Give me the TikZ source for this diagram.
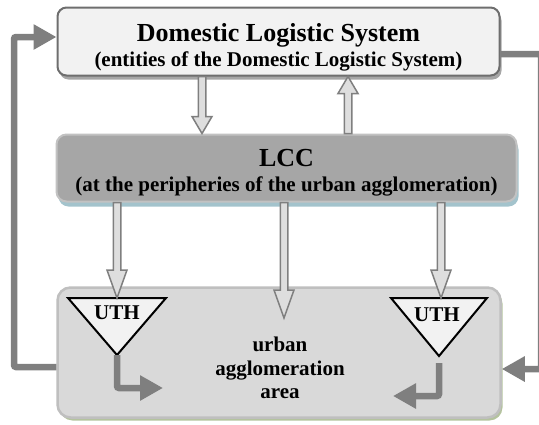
\documentclass[tikz,border=0pt]{standalone}
\usepackage{fontspec}
\setmainfont{Liberation Serif}
\usetikzlibrary{calc,shadows,arrows.meta}

\definecolor{boxline}{HTML}{6E6E6E}
\definecolor{topfill}{HTML}{F2F2F2}
\definecolor{lccfill}{HTML}{A6A6A6}
\definecolor{lccline}{HTML}{C2C2C2}
\definecolor{lccshade}{HTML}{A3C3CC}
\definecolor{areafill}{HTML}{D9D9D9}
\definecolor{arealine}{HTML}{BFBFBF}
\definecolor{areashade}{HTML}{B4C39E}
\definecolor{flowgray}{HTML}{7F7F7F}
\definecolor{fatfill}{HTML}{DEDEDE}
\definecolor{brownshade}{HTML}{C49A78}

\tikzset{
  dlsbox/.style={draw=boxline, line width=2pt, fill=topfill, rounded corners=9pt,
    drop shadow={shadow xshift=2pt, shadow yshift=-4pt, fill=lccfill, opacity=1}},
  lccbox/.style={draw=lccline, line width=2pt, fill=lccfill, rounded corners=10pt,
    drop shadow={shadow xshift=2pt, shadow yshift=-5pt, fill=lccshade, opacity=1}},
  areabox/.style={draw=arealine, line width=2.5pt, fill=areafill, rounded corners=13pt,
    drop shadow={shadow xshift=2pt, shadow yshift=-3pt, fill=areashade, opacity=1}},
  lbl/.style={align=center, inner sep=0pt, font=\bfseries\fontsize{21}{25}\selectfont},
  feed/.style={draw=flowgray, line width=6.5pt, rounded corners=2pt,
    -{Triangle[length=23pt,width=24pt]}},
  fat/.style={draw=flowgray, fill=fatfill, line width=1.5pt, line join=miter},
  uth/.style={draw=black, fill=topfill, line width=2pt, line join=miter}
}

% hollow block arrow from #2 to #3, head length #1
\newcommand{\fatarrow}[3][17pt]{%
  \coordinate (fh) at ($(#3)!#1!(#2)$);
  \draw[fat] ($(#2)!3.75pt!90:(#3)$) -- ($(fh)!3.75pt!90:(#3)$) -- ($(fh)!10pt!90:(#3)$)
    -- (#3) -- ($(fh)!10pt!-90:(#3)$) -- ($(fh)!3.75pt!-90:(#3)$) -- ($(#2)!3.75pt!-90:(#3)$) -- cycle;}

\begin{document}
\begin{tikzpicture}[x=1pt, y=-1pt]
\useasboundingbox (0,0) rectangle (539,424);

% boxes
\node[dlsbox, minimum width=442pt, minimum height=68pt] (dls) at (278.5,41.5) {};
\node[lccbox, minimum width=460pt, minimum height=67pt] (lcc) at (286.5,168) {};
\node[areabox, minimum width=443pt, minimum height=130pt] (area) at (279,352.5) {};

\node[lbl] (dlstxt) at (278.5,47) {{\fontsize{26}{26}\selectfont Domestic Logistic System}\\(entities of the Domestic Logistic System)};
\node[lbl] (lcctxt) at (286.5,173) {{\fontsize{26}{26}\selectfont LCC}\\(at the peripheries of the urban agglomeration)};
\node[lbl, font=\bfseries\fontsize{21}{23.5}\selectfont] (areatxt) at (280,368) {urban\\agglomeration\\area};

% UTH triangles
\coordinate (t1l) at (68,298);  \coordinate (t1r) at (166,298); \coordinate (t1b) at (117,355);
\coordinate (t2l) at (391,298); \coordinate (t2r) at (487,298); \coordinate (t2b) at (439,356);
\coordinate (t1t) at ($(t1l)!.5!(t1r)$);
\coordinate (t2t) at ($(t2l)!.5!(t2r)$);
\fill[brownshade, shift={(2.5,2)}] (t1l) -- (t1r) -- (t1b) -- cycle;
\fill[brownshade, shift={(2.5,2)}] (t2l) -- (t2r) -- (t2b) -- cycle;
\draw[uth] (t1l) -- (t1r) -- (t1b) -- cycle;
\draw[uth] (t2l) -- (t2r) -- (t2b) -- cycle;
\node[lbl] (uth1) at (117,313) {UTH};
\node[lbl] (uth2) at (437,315) {UTH};

% hollow arrows
\fatarrow{dls.south -| 202,0}{lcc.north -| 202,0}
\fatarrow{lcc.north -| 348,0}{dls.south -| 348,0}
\fatarrow[28pt]{lcc.south -| t1t}{t1t}
\fatarrow[28pt]{lcc.south -| 284,0}{284,318}
\fatarrow[28pt]{lcc.south -| 441,0}{441,298}

% feedback flows
\draw[feed] ([yshift=-14.5pt]area.west) -| (14,37) -- ([yshift=4.5pt]dls.west);
\draw[feed] ([yshift=-12.5pt]dls.east) -| (541,369) -- ([yshift=-16.5pt]area.east);

% distribution from the UTHs
\coordinate (e1) at (163,388);
\coordinate (e2) at (393,396);
\draw[feed] (t1b) |- (e1);
\draw[feed] ([yshift=-7pt]t2b) |- (e2);
\end{tikzpicture}
\end{document}
